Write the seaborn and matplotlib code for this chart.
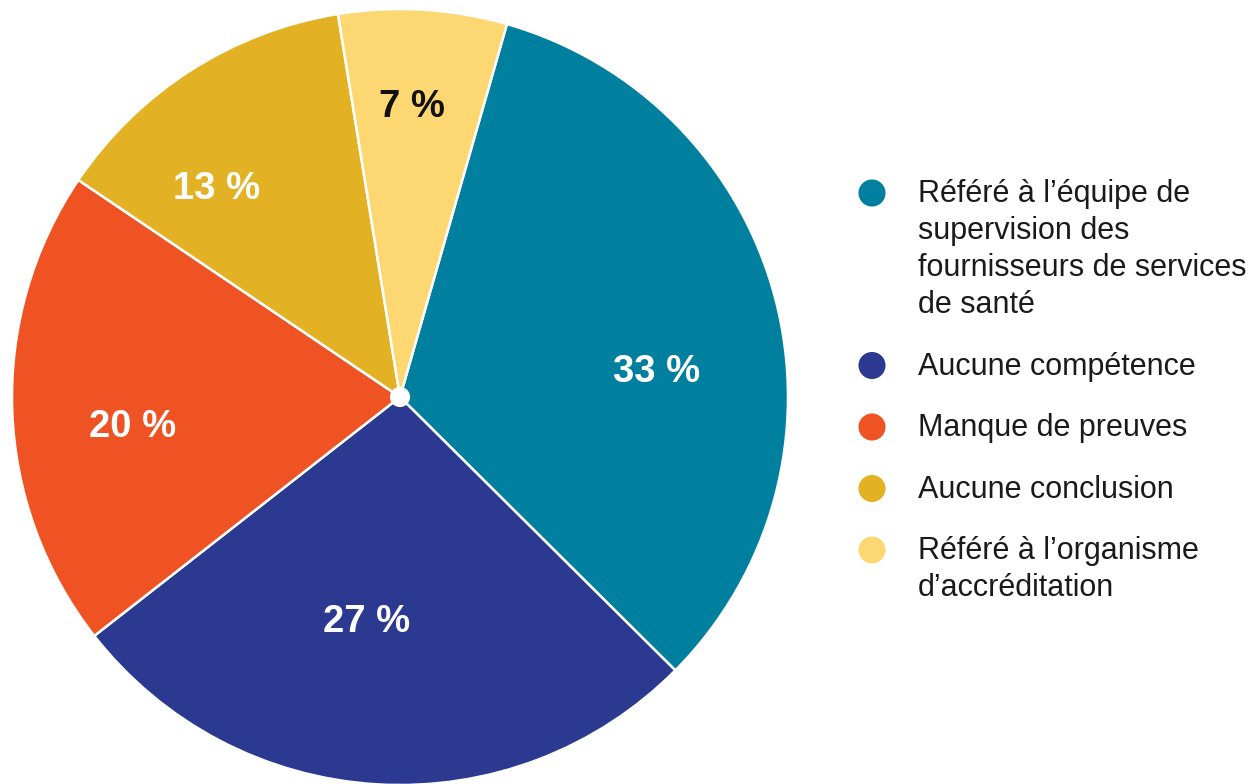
import numpy as np
import matplotlib
matplotlib.use("Agg")
import matplotlib.pyplot as plt
from matplotlib.patches import Circle
import seaborn as sns

# Issue outcomes (share of cases, %)
categories = [
    "Référé à l’équipe de\nsupervision des\nfournisseurs de services\nde santé",
    "Aucune compétence",
    "Manque de preuves",
    "Aucune conclusion",
    "Référé à l’organisme\nd’accréditation",
]
shares = [33, 27, 20, 13, 7]
share_labels = ["33 %", "27 %", "20 %", "13 %", "7 %"]

colors = ["#00809E", "#2B3990", "#EF5323", "#E3B224", "#FDD872"]
label_colors = ["white", "white", "white", "white", "#111111"]
# label placement: distance from centre and nudge (degrees, clockwise) off the bisector
label_radius = [0.665, 0.585, 0.693, 0.716, 0.747]
label_nudge = [9.0, 5.0, -4.4, -8.8, -1.0]

sns.set_theme(style="white")
plt.rcParams["font.family"] = ["Liberation Sans", "DejaVu Sans"]

W, H = 1257, 784
fig = plt.figure(figsize=(W / 100, H / 100), dpi=100)

# Pie occupies a square axes on the left
cx, cy, R = 400, 397, 388
ax = fig.add_axes([(cx - R) / W, (H - cy - R) / H, 2 * R / W, 2 * R / H])

start = 74
wedges, _ = ax.pie(
    shares,
    colors=colors,
    startangle=start,
    counterclock=False,
    radius=1,
    wedgeprops=dict(edgecolor="white", linewidth=1.8),
)
ax.set_xlim(-1, 1)
ax.set_ylim(-1, 1)
ax.set_aspect("equal")
ax.axis("off")

# Value labels placed near each wedge's bisector
for w, txt, col, r, nd in zip(wedges, share_labels, label_colors,
                              label_radius, label_nudge):
    mid = np.deg2rad((w.theta1 + w.theta2) / 2 - nd)
    ax.text(r * np.cos(mid), r * np.sin(mid), txt, ha="center", va="center",
            fontsize=27.5, fontweight="bold", color=col)

# White hub at the centre
ax.add_patch(Circle((0, 0), 0.026, facecolor="white", edgecolor="none", zorder=5))

# Legend drawn in a pixel-based overlay: dot aligned with the first line
lax = fig.add_axes([0, 0, 1, 1])
lax.set_xlim(0, W)
lax.set_ylim(H, 0)
lax.axis("off")

dot_x, text_x = 872, 918
baseline, line_step, entry_gap = 202, 37, 61.5
for label, col in zip(categories, colors):
    lines = label.split("\n")
    lax.scatter([dot_x], [baseline - 9], s=380, color=col, edgecolors="none")
    for i, line in enumerate(lines):
        lax.text(text_x, baseline + i * line_step, line, ha="left", va="baseline",
                 fontsize=22, color="#1a1a1a")
    baseline += (len(lines) - 1) * line_step + entry_gap

fig.savefig("out.png", dpi=100, facecolor="white")
